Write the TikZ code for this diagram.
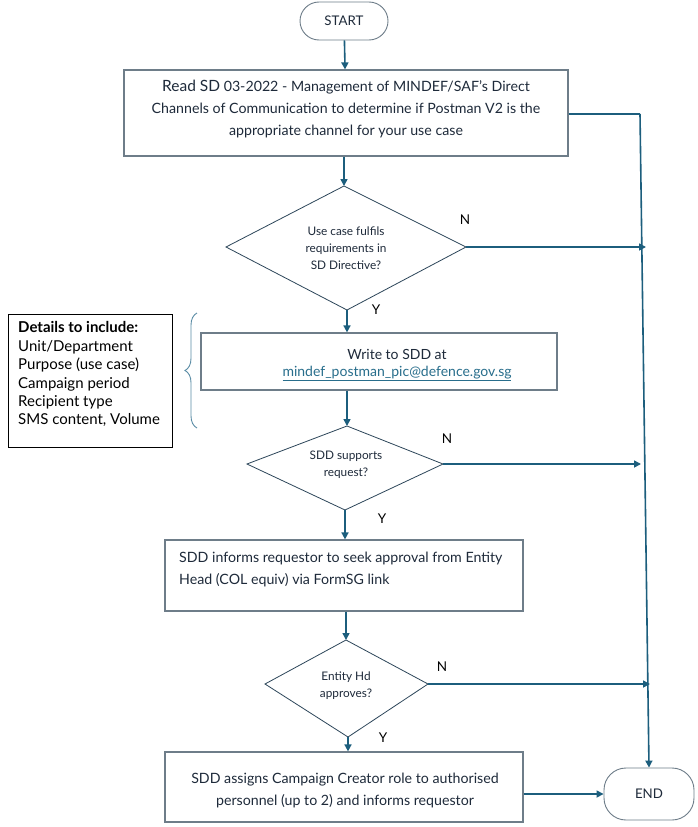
\documentclass[tikz,border=0pt]{standalone}
\usepackage{fontspec}
\setmainfont{Lato}
\usetikzlibrary{shapes.geometric,arrows.meta,decorations.pathreplacing}
\definecolor{arr}{RGB}{28,94,125}
\definecolor{bord}{RGB}{110,125,137}
\definecolor{dbord}{RGB}{45,70,90}
\definecolor{txt}{RGB}{30,42,58}
\definecolor{link}{RGB}{40,110,140}
\definecolor{brace}{RGB}{90,140,165}
\begin{document}
\begin{tikzpicture}[x=1pt,y=-1pt,
  every node/.style={text=txt},
  term/.style={draw=bord,line width=0.9pt,rounded corners=19pt,minimum width=#1,minimum height=38pt,font=\fontsize{13.3}{15}\selectfont},
  proc/.style={draw=bord,line width=1.2pt,minimum width=#1,align=center},
  dec/.style={draw=dbord,line width=0.8pt},
  conn/.style={draw=arr,line width=1.6pt,-{Triangle[length=7pt,width=7pt]}},
  plain/.style={draw=arr,line width=1.6pt},
  yn/.style={font=\fontsize{13.5}{15}\selectfont,text=black},
  dtxt/.style={font=\fontsize{11.8}{17}\selectfont,align=center}]
\useasboundingbox (0,0) rectangle (698,827);
\fill[white] (0,0) rectangle (698,827);
% start / end
\node[term=88pt] (start) at (344,21) {START};
\node[term=90pt,minimum height=52pt,rounded corners=22pt] (end) at (649,794) {END};
% box1
\node[proc=444pt,minimum height=86pt] (b1) at (346,113) {};
\node[font=\fontsize{14.2}{22}\selectfont,align=center] (b1t) at (346,109) {{\fontsize{15.5}{17}\selectfont Read SD} 03-2022 - Management of MINDEF/SAF’s Direct\\Channels of Communication to determine if Postman V2 is the\\appropriate channel for your use case};
% diamond1
\draw[dec] (344,186) coordinate (d1t) -- (466,247) coordinate (d1r) -- (347,310) coordinate (d1b) -- (226,247) coordinate (d1l) -- cycle;
\node[dtxt] (d1x) at (346,248) {Use case fulfils\\requirements in\\SD Directive?};
% box2
\node[proc=356pt,minimum height=57pt] (b2) at (379,361.5) {};
\node[font=\fontsize{14}{17.5}\selectfont,align=center] (b2t) at (397,365) {Write to SDD at\\{\color{link}\underline{mindef\_postman\_pic@defence.gov.sg}}};
% details
\node[draw=black,line width=0.9pt,minimum width=164pt,minimum height=133pt] (det) at (90,380.5) {};
\node[anchor=north west,align=left,font=\fontsize{15}{18.4}\selectfont,text=black,inner sep=0pt] (dett) at (18,321.5) {\textbf{Details to include:}\\Unit/Department\\Purpose (use case)\\Campaign period\\Recipient type\\SMS content, Volume};
\draw[brace,line width=0.9pt,decorate,decoration={brace,amplitude=12pt}] (197,428) coordinate (brb) -- (197,313) coordinate (brt);
% diamond2
\draw[dec] (347,426) coordinate (d2t) -- (443,464) coordinate (d2r) -- (345,510) coordinate (d2b) -- (247,464) coordinate (d2l) -- cycle;
\node[dtxt] (d2x) at (346,465) {SDD supports\\request?};
% box3
\node[proc=358pt,minimum height=71pt] (b3) at (344,575.5) {};
\node[anchor=north west,font=\fontsize{14.2}{22}\selectfont,align=left,inner sep=0pt] (b3t) at (179,552) {SDD informs requestor to seek approval from Entity\\Head (COL equiv) via FormSG link};
% diamond3
\draw[dec] (346,640) coordinate (d3t) -- (428,684) coordinate (d3r) -- (348,737) coordinate (d3b) -- (265,684) coordinate (d3l) -- cycle;
\node[dtxt] (d3x) at (346,686) {Entity Hd\\approves?};
% box4
\node[proc=358pt,minimum height=70pt] (b4) at (344,787) {};
\node[font=\fontsize{14.2}{22}\selectfont,align=center] (b4t) at (345,790) {SDD assigns Campaign Creator role to authorised\\personnel (up to 2) and informs requestor};
% right spine
\coordinate (sp0) at (640,114);
\draw[plain] (b1.east |- sp0) -- (sp0);
\draw[conn] (sp0) -- (end.north);
% connectors
\draw[conn] (start) -- (b1);
\draw[conn] (b1.south -| d1t) -- (d1t);
\coordinate (n1) at (646,247);
\draw[conn] (d1r) -- (n1);
\draw[conn] (d1b) -- (d1b |- b2.north);
\draw[conn] (d2t |- b2.south) -- (d2t);
\coordinate (n2) at (641,464);
\draw[conn] (d2r) -- (n2);
\draw[conn] (d2b) -- (d2b |- b3.north);
\draw[conn] (b3.south -| d3t) -- (d3t);
\coordinate (n3) at (650,684);
\draw[conn] (d3r) -- (n3);
\draw[conn] (d3b) -- (d3b |- b4.north);
\draw[conn] (b4.east |- end) -- (end.west);
% labels
\node[yn] (ln1) at (465,220) {N};
\node[yn] (ly1) at (376,310) {Y};
\node[yn] (ln2) at (447,439) {N};
\node[yn] (ly2) at (382,519) {Y};
\node[yn] (ln3) at (442,667) {N};
\node[yn] (ly3) at (383,738) {Y};
\end{tikzpicture}
\end{document}
